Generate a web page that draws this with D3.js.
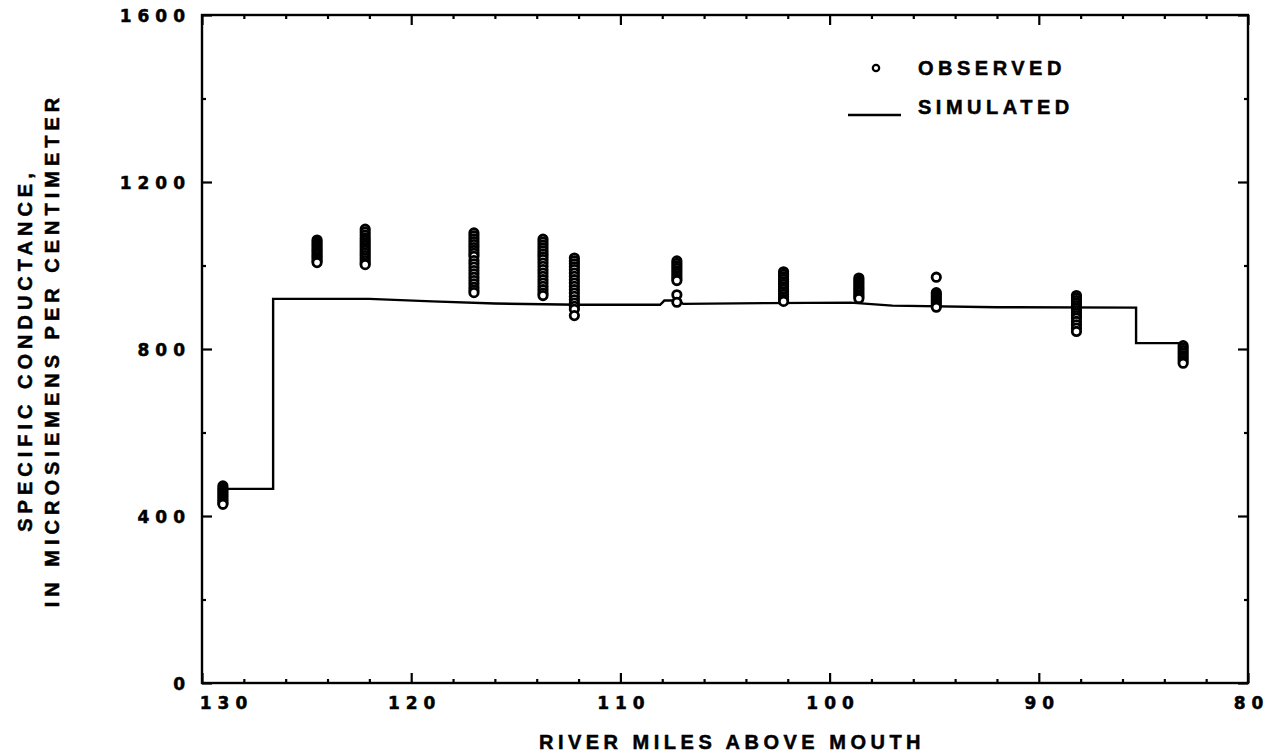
<!DOCTYPE html>
<html>
<head>
<meta charset="utf-8">
<script src="https://cdn.jsdelivr.net/npm/d3@7"></script>
<style>
  html, body { margin: 0; padding: 0; background: #fff; }
  text { font-family: "Liberation Sans", Arial, sans-serif; font-weight: bold; fill: #000; stroke: #000; stroke-width: 0.5px; }
  .tick text { font-family: "DejaVu Sans", "Liberation Sans", sans-serif; }
</style>
</head>
<body>
<svg id="chart" width="1279" height="754"></svg>
<script>
// ---- data ----
const xTickLabels = [130, 120, 110, 100, 90, 80];
const yTickLabels = [0, 400, 800, 1200, 1600];

// Simulated (step-like) line: river mile, specific conductance
const simMiles  = [129.0, 126.6, 126.6, 122.0, 119.0, 116.0, 112.0, 108.1, 107.9, 107.2, 107.0, 103.0, 99.0, 97.0, 92.0, 85.35, 85.35, 83.1];
const simValues = [465,   465,   920,   920,   914,   909,   906,   906,   916,   916,   908,   910,   911,   904,   900,   899,   814,   814];

// Observed stations (river mile) and observed conductance values at each
const obsMiles = [129.0, 124.5, 122.2, 117.0, 113.7, 112.2, 107.3, 102.2, 98.6, 94.9, 88.2, 83.1];
const obsValues = [
  [472, 466, 461, 456, 451, 446, 441, 436, 431, 428],
  [1061, 1056, 1051, 1046, 1041, 1036, 1031, 1026, 1021, 1016, 1011, 1007],
  [1087, 1080, 1073, 1066, 1060, 1054, 1048, 1042, 1036, 1030, 1024, 1018, 1012, 1006, 1002],
  [1078, 1071, 1064, 1057, 1050, 1043, 1036, 1029, 1022, 1012, 1004, 996, 988, 980, 972, 964, 956, 948, 941, 935],
  [1063, 1056, 1049, 1042, 1035, 1028, 1021, 1014, 1006, 998, 990, 982, 974, 966, 958, 950, 942, 934, 928],
  [1018, 1011, 1004, 997, 990, 982, 974, 966, 958, 950, 942, 934, 926, 918, 910, 902, 895, 880],
  [1011, 1005, 999, 993, 987, 981, 975, 969, 964, 930, 912],
  [985, 979, 973, 967, 961, 955, 949, 943, 937, 931, 925, 919, 914],
  [970, 965, 960, 955, 950, 945, 940, 935, 930, 925, 921],
  [972, 935, 930, 925, 920, 915, 910, 905, 900],
  [928, 922, 916, 910, 904, 898, 892, 886, 880, 874, 866, 858, 850, 842],
  [808, 802, 796, 790, 784, 778, 772, 766]
];

// ---- layout ----
const svg = d3.select("#chart");
const L = 202, R = 1248, T = 15, B = 683;

const x = d3.scaleLinear().domain([130, 80]).range([L, R]);
const y = d3.scaleLinear().domain([0, 1600]).range([B, T]);

const xMinor = d3.range(80, 131, 2).filter(v => v % 10 !== 0);
const yMinor = d3.range(0, 1601, 200).filter(v => v % 400 !== 0);

const g = svg.append("g");

function styleAxis(sel) {
  sel.select(".domain").remove();
  sel.selectAll(".tick line").attr("stroke", "#000").attr("stroke-width", 2.2);
}

// bottom
g.append("g").attr("transform", `translate(0,${B})`)
  .call(d3.axisBottom(x).tickValues(xMinor).tickSize(-4).tickFormat(""))
  .call(styleAxis);
const xb = g.append("g").attr("transform", `translate(0,${B})`)
  .call(d3.axisBottom(x).tickValues(xTickLabels).tickSize(-10).tickPadding(14).tickFormat(d3.format("d")))
  .call(styleAxis);
xb.selectAll(".tick text")
  .style("font-size", "17px").style("letter-spacing", "6px")
  .attr("dx", d => d === 130 ? 24 : 3);

// top
g.append("g").attr("transform", `translate(0,${T})`)
  .call(d3.axisTop(x).tickValues(xMinor).tickSize(-4).tickFormat(""))
  .call(styleAxis);
g.append("g").attr("transform", `translate(0,${T})`)
  .call(d3.axisTop(x).tickValues(xTickLabels).tickSize(-10).tickFormat(""))
  .call(styleAxis);

// left
g.append("g").attr("transform", `translate(${L},0)`)
  .call(d3.axisLeft(y).tickValues(yMinor).tickSize(-4).tickFormat(""))
  .call(styleAxis);
const yl = g.append("g").attr("transform", `translate(${L},0)`)
  .call(d3.axisLeft(y).tickValues(yTickLabels).tickSize(-10).tickPadding(11).tickFormat(d3.format("d")))
  .call(styleAxis);
yl.selectAll(".tick text")
  .style("font-size", "17px").style("letter-spacing", "6px")
  .attr("dy", "0.36em");

// right
g.append("g").attr("transform", `translate(${R},0)`)
  .call(d3.axisRight(y).tickValues(yMinor).tickSize(-4).tickFormat(""))
  .call(styleAxis);
g.append("g").attr("transform", `translate(${R},0)`)
  .call(d3.axisRight(y).tickValues(yTickLabels).tickSize(-10).tickFormat(""))
  .call(styleAxis);

// frame
g.append("rect").attr("x", L).attr("y", T).attr("width", R - L).attr("height", B - T)
  .attr("fill", "none").attr("stroke", "#000").attr("stroke-width", 2.4);

// simulated line
const simData = simMiles.map((m, i) => [m, simValues[i]]);
g.append("path").datum(simData)
  .attr("fill", "none").attr("stroke", "#000").attr("stroke-width", 2.4)
  .attr("d", d3.line().x(d => x(d[0])).y(d => y(d[1])));

// observed circles
const obsData = [];
obsMiles.forEach((m, i) => obsValues[i].forEach(v => obsData.push([m, v])));
g.append("g").selectAll("circle").data(obsData).join("circle")
  .attr("cx", d => x(d[0])).attr("cy", d => y(d[1])).attr("r", 4.2)
  .attr("fill", "#fff").attr("stroke", "#000").attr("stroke-width", 2.8);

// legend
g.append("circle").attr("cx", 876).attr("cy", 68).attr("r", 3.2)
  .attr("fill", "#fff").attr("stroke", "#000").attr("stroke-width", 2.2);
g.append("text").attr("x", 918).attr("y", 75).text("OBSERVED")
  .style("font-size", "20px").style("letter-spacing", "4.5px");
g.append("line").attr("x1", 848).attr("x2", 901).attr("y1", 115).attr("y2", 115)
  .attr("stroke", "#000").attr("stroke-width", 2.4);
g.append("text").attr("x", 918).attr("y", 114).text("SIMULATED")
  .style("font-size", "20px").style("letter-spacing", "4.5px");

// axis titles
svg.append("text").attr("x", 732).attr("y", 749).attr("text-anchor", "middle")
  .text("RIVER MILES ABOVE MOUTH")
  .style("font-size", "20px").style("letter-spacing", "4.5px");

svg.append("text").attr("transform", "translate(32,350) rotate(-90)")
  .attr("text-anchor", "middle").text("SPECIFIC CONDUCTANCE,")
  .style("font-size", "20px").style("letter-spacing", "5px");
svg.append("text").attr("transform", "translate(59,350) rotate(-90)")
  .attr("text-anchor", "middle").text("IN MICROSIEMENS PER CENTIMETER")
  .style("font-size", "20px").style("letter-spacing", "5px");
</script>
</body>
</html>
